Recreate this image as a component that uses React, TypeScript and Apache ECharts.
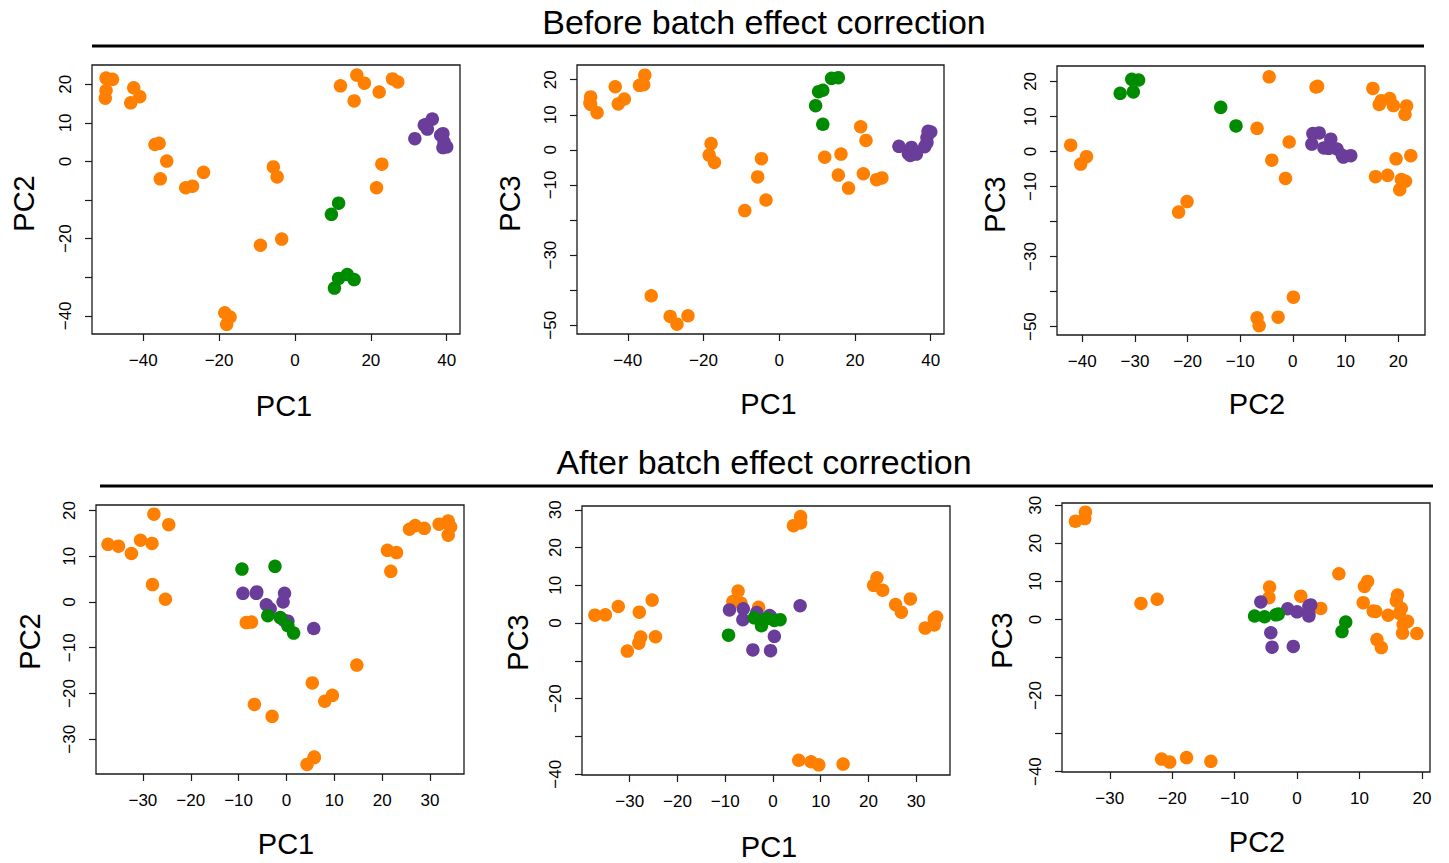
import React, { useEffect, useRef } from "react";
import * as echarts from "echarts";

// ---------- DATA ----------
// Before batch effect correction: principal components per sample
const beforeOrangePC1 = [-49.8, -48.1, -49.8, -50.0, -42.5, -40.9, -43.3, -36.9, -35.8, -33.8, -35.5, -28.8, -27.0, -24.1, -18.5, -17.1, -18.0, -5.7, -4.7, -9.1, -3.5, 12.0, 16.3, 18.3, 15.6, 22.2, 25.7, 27.1, 22.9, 21.5];
const beforeOrangePC2 = [21.6, 21.3, 18.4, 16.4, 19.1, 16.8, 15.2, 4.4, 4.7, 0.1, -4.5, -6.8, -6.4, -2.8, -39.2, -40.3, -42.2, -1.4, -4.0, -21.7, -20.1, 19.6, 22.4, 20.3, 15.7, 18.0, 21.4, 20.6, -0.7, -6.8];
const beforeOrangePC3 = [13.0, 10.6, 15.1, 13.4, 13.1, 14.5, 18.0, 18.4, 18.6, -41.6, 21.3, -47.5, -49.7, -47.3, -1.5, -3.6, 1.8, -7.7, -2.5, -17.3, -14.3, -2.1, -1.2, -10.9, -7.2, -6.8, -8.5, -8.0, 2.7, 6.6];

const beforeGreenPC1 = [9.6, 11.5, 11.5, 13.8, 15.6, 10.4];
const beforeGreenPC2 = [-13.7, -10.8, -30.3, -29.3, -30.6, -32.8];
const beforeGreenPC3 = [12.6, 7.3, 17.0, 20.4, 20.6, 16.6];

const beforePurplePC1 = [39.3, 40.0, 39.0, 39.0, 31.6, 34.9, 38.4, 34.1, 36.2, 34.6];
const beforePurplePC2 = [5.0, 3.8, 7.2, 3.6, 5.9, 8.4, 6.8, 9.4, 11.0, 9.6];
const beforePurplePC3 = [5.3, 5.1, 3.5, 2.1, 1.0, 0.7, 0.9, -1.1, -1.2, -1.6];

// After batch effect correction
const afterOrangePC1 = [-37.3, -35.1, -32.4, -30.5, -28.1, -27.7, -24.6, -28.0, -25.3, -8.4, -7.3, -6.7, -3.0, 5.4, 8.0, 9.6, 14.7, 4.3, 5.8, 5.8, 21.1, 23.0, 21.8, 25.7, 26.9, 28.8, 31.9, 33.8, 34.3, 33.8];
const afterOrangePC2 = [12.6, 12.2, 10.6, 13.5, 12.8, 19.2, 16.9, 3.8, 0.6, -4.5, -4.4, -22.4, -25.0, -17.7, -21.7, -20.4, -13.8, -35.5, -33.9, -34.0, 11.3, 10.8, 6.7, 15.9, 16.7, 16.1, 17.0, 17.7, 16.4, 14.6];
const afterOrangePC3 = [2.1, 2.2, 4.4, -7.4, -5.3, -3.7, -3.6, 2.9, 6.1, 5.7, 8.5, 5.3, 4.2, -36.3, -36.7, -37.5, -37.3, 25.8, 28.2, 26.5, 10.0, 8.7, 12.0, 4.9, 2.9, 6.4, -1.3, -0.5, 1.6, 1.1];

const afterGreenPC1 = [-9.3, -2.4, -3.9, -1.3, 0.3, 1.5];
const afterGreenPC2 = [7.2, 7.8, -3.0, -3.4, -5.2, -6.8];
const afterGreenPC3 = [-3.2, -0.7, 1.4, 1.2, 0.7, 0.9];

const afterPurplePC1 = [-9.1, -6.2, -6.3, -4.2, -3.4, -0.4, -0.7, 0.3, -0.5, 5.7];
const afterPurplePC2 = [1.9, 2.2, 1.9, -0.6, -1.5, 1.9, 0.0, -4.2, -4.0, -5.8];
const afterPurplePC3 = [3.5, 3.8, 0.9, -7.1, 2.8, 1.6, 2.0, -3.5, -7.3, 4.6];

// Tick values
const ticksBeforePC1 = [-40, -20, 0, 20, 40];
const ticksBeforePC2x = [-40, -30, -20, -10, 0, 10, 20];
const ticksBeforePC2y = [-40, -30, -20, -10, 0, 10, 20];
const labelsBeforePC2y = [-40, -20, 0, 10, 20];
const ticksBeforePC3 = [-50, -40, -30, -20, -10, 0, 10, 20];
const labelsBeforePC3 = [-50, -30, -10, 0, 10, 20];
const ticksAfterPC1 = [-30, -20, -10, 0, 10, 20, 30];
const ticksAfterPC2x = [-30, -20, -10, 0, 10, 20];
const ticksAfterPC2y = [-30, -20, -10, 0, 10, 20];
const ticksAfterPC3 = [-40, -30, -20, -10, 0, 10, 20, 30];
const labelsAfterPC3 = [-40, -20, 0, 10, 20, 30];

const titleBefore = "Before batch effect correction";
const titleAfter = "After batch effect correction";

// ---------- STYLE ----------
const ORANGE = "#FF7F00";
const GREEN = "#008B00";
const PURPLE = "#6A3D9A";
const FONT = "'Liberation Sans', Arial, Helvetica, sans-serif";

type Pcs = { o: number[][]; p: number[][]; g: number[][] };
const before: Pcs = {
  o: [beforeOrangePC1, beforeOrangePC2, beforeOrangePC3],
  p: [beforePurplePC1, beforePurplePC2, beforePurplePC3],
  g: [beforeGreenPC1, beforeGreenPC2, beforeGreenPC3],
};
const after: Pcs = {
  o: [afterOrangePC1, afterOrangePC2, afterOrangePC3],
  p: [afterPurplePC1, afterPurplePC2, afterPurplePC3],
  g: [afterGreenPC1, afterGreenPC2, afterGreenPC3],
};

// xs: horizontal shift of the x-axis name (px), ys: vertical shift of the y-axis name (px)
const panels = [
  { d: before, xi: 0, yi: 1, grid: { left: 92, top: 65, width: 368, height: 269 }, xr: [-53.5, 43.5], yr: [-44.7, 25.0], xt: ticksBeforePC1, xl: ticksBeforePC1, yt: ticksBeforePC2y, yl: labelsBeforePC2y, xn: "PC1", yn: "PC2", xg: 57, yg: 54, xs: 8, ys: 4 },
  { d: before, xi: 0, yi: 2, grid: { left: 577, top: 65, width: 367, height: 269 }, xr: [-53.4, 43.5], yr: [-52.5, 24.2], xt: ticksBeforePC1, xl: ticksBeforePC1, yt: ticksBeforePC3, yl: labelsBeforePC3, xn: "PC1", yn: "PC3", xg: 55, yg: 53, xs: 8, ys: 4 },
  { d: before, xi: 1, yi: 2, grid: { left: 1057, top: 66, width: 368, height: 269 }, xr: [-44.8, 25.1], yr: [-52.4, 24.4], xt: ticksBeforePC2x, xl: ticksBeforePC2x, yt: ticksBeforePC3, yl: labelsBeforePC3, xn: "PC2", yn: "PC3", xg: 54.5, yg: 48, xs: 16, ys: 4 },
  { d: after, xi: 0, yi: 1, grid: { left: 96, top: 505, width: 368, height: 269 }, xr: [-39.8, 37.1], yr: [-37.6, 21.2], xt: ticksAfterPC1, xl: ticksAfterPC1, yt: ticksAfterPC2y, yl: ticksAfterPC2y, xn: "PC1", yn: "PC2", xg: 55, yg: 52, xs: 6, ys: 2 },
  { d: after, xi: 0, yi: 2, grid: { left: 582, top: 506, width: 368, height: 269 }, xr: [-40.0, 37.1], yr: [-40.2, 31.0], xt: ticksAfterPC1, xl: ticksAfterPC1, yt: ticksAfterPC3, yl: labelsAfterPC3, xn: "PC1", yn: "PC3", xg: 57, yg: 50, xs: 3, ys: 2 },
  { d: after, xi: 1, yi: 2, grid: { left: 1062, top: 503, width: 368, height: 269 }, xr: [-37.65, 21.3], yr: [-40.1, 30.6], xt: ticksAfterPC2x, xl: ticksAfterPC2x, yt: ticksAfterPC3, yl: labelsAfterPC3, xn: "PC2", yn: "PC3", xg: 55, yg: 46, xs: 11, ys: 3 },
];

const fmt = (v: number) => (v < 0 ? "\u2212" + Math.abs(v) : String(v));

function zip(a: number[], b: number[]) {
  return a.map((v, i) => [v, b[i]]);
}

function buildOption() {
  const grids: any[] = [];
  const xAxes: any[] = [];
  const yAxes: any[] = [];
  const series: any[] = [];
  panels.forEach((p, i) => {
    grids.push({
      ...p.grid,
      show: true,
      borderColor: "#1a1a1a",
      borderWidth: 1.3,
      backgroundColor: "transparent",
      containLabel: false,
      outerBoundsMode: "none",
    });
    const common = {
      type: "value",
      gridIndex: i,
      nameLocation: "middle",
      axisLine: { show: false, onZero: false },
      splitLine: { show: false },
    };
    xAxes.push({
      ...common,
      min: p.xr[0],
      max: p.xr[1],
      name: p.xn,
      nameGap: p.xg,
      nameTextStyle: { fontSize: 29, fontFamily: FONT, color: "#000", padding: [0, 0, 0, 2 * p.xs] },
      axisTick: { show: true, length: 7, inside: false, lineStyle: { color: "#1a1a1a", width: 1.2 }, customValues: p.xt },
      axisLabel: { show: true, margin: 18, fontSize: 17, fontFamily: FONT, color: "#000", formatter: fmt, customValues: p.xl },
    });
    yAxes.push({
      ...common,
      min: p.yr[0],
      max: p.yr[1],
      name: p.yn,
      nameGap: p.yg,
      nameTextStyle: { fontSize: 29, fontFamily: FONT, color: "#000", padding: [0, 2 * p.ys, 0, 0] },
      axisTick: { show: true, length: 7, inside: false, lineStyle: { color: "#1a1a1a", width: 1.2 }, customValues: p.yt },
      axisLabel: { show: true, margin: 18, rotate: 90, fontSize: 17, fontFamily: FONT, color: "#000", formatter: fmt, customValues: p.yl },
    });
    const groups: [number[][], string][] = [
      [p.d.o, ORANGE],
      [p.d.p, PURPLE],
      [p.d.g, GREEN],
    ];
    groups.forEach(([arr, color]) => {
      series.push({
        type: "scatter",
        xAxisIndex: i,
        yAxisIndex: i,
        symbol: "circle",
        symbolSize: 13.5,
        itemStyle: { color, opacity: 1 },
        emphasis: { disabled: true },
        data: zip(arr[p.xi], arr[p.yi]),
      });
    });
  });

  return {
    animation: false,
    backgroundColor: "#fff",
    grid: grids,
    xAxis: xAxes,
    yAxis: yAxes,
    series,
    graphic: [
      { type: "text", x: 764, y: 22, style: { text: titleBefore, x: 0, y: 0, fontSize: 34, fontFamily: FONT, fill: "#000", textAlign: "center", textVerticalAlign: "middle" } },
      { type: "line", shape: { x1: 92, y1: 46, x2: 1424, y2: 46 }, style: { stroke: "#000", lineWidth: 3 } },
      { type: "text", x: 764, y: 462, style: { text: titleAfter, x: 0, y: 0, fontSize: 34, fontFamily: FONT, fill: "#000", textAlign: "center", textVerticalAlign: "middle" } },
      { type: "line", shape: { x1: 100, y1: 486, x2: 1433, y2: 486 }, style: { stroke: "#000", lineWidth: 3 } },
    ],
  };
}

export default function App() {
  const ref = useRef<HTMLDivElement>(null);
  useEffect(() => {
    document.body.style.margin = "0";
    if (!ref.current) return;
    const chart = echarts.init(ref.current, undefined, { renderer: "svg" });
    chart.setOption(buildOption() as any);
    return () => chart.dispose();
  }, []);
  return (
    <div
      ref={ref}
      style={{ position: "absolute", left: 0, top: 0, width: 1449, height: 863, background: "#fff" }}
    />
  );
}
